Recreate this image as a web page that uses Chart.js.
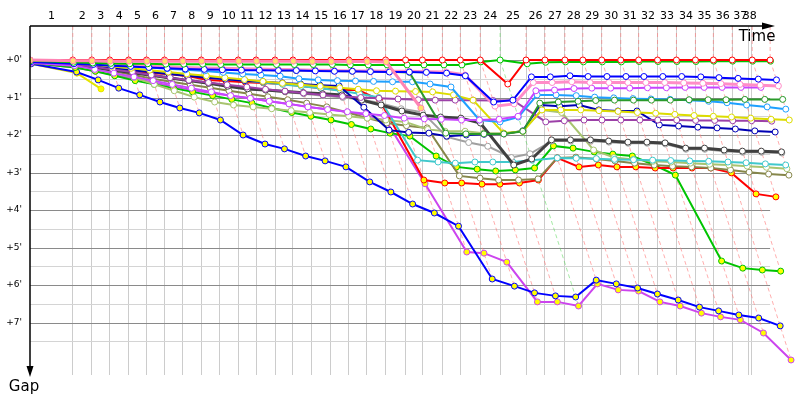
<!DOCTYPE html>
<html>
<head>
<meta charset="utf-8">
<script src="https://cdn.jsdelivr.net/npm/chart.js@4.4.1/dist/chart.umd.min.js"></script>
<style>
  html, body { margin: 0; padding: 0; background: #fff; }
  canvas { display: block; }
</style>
</head>
<body>
<canvas id="gapChart" width="800" height="400"></canvas>
<script>
// leader crossing time (minutes) for lap 0..38
var leaderTimes = [0, 3.58, 5.17, 6.67, 8.25, 9.75, 11.25, 12.75, 14.33, 15.83, 17.42, 18.92, 20.5, 22.0, 23.58, 25.17, 26.67, 28.17, 29.75, 31.42, 32.83,
  34.5, 36.0, 37.67, 39.33, 41.5, 43.08, 44.75, 46.25, 47.83, 49.42, 50.92, 52.5, 54.08, 55.67, 57.17, 58.75, 60.42, 61.92];
// vertical lap lines at the top axis
var lapLines = [3.58, 5.17, 6.67, 8.25, 9.75, 11.25, 12.75, 14.33, 15.83, 17.42, 18.92, 20.5, 22.0, 23.58, 25.17, 26.67, 28.17, 29.75, 31.42, 32.83,
  34.5, 36.0, 37.67, 39.33, 41.5, 43.08, 44.75, 46.25, 47.83, 49.42, 50.92, 52.5, 54.08, 55.67, 57.17, 58.75, 60.08, 60.33];
var lapLabels = ["1","2","3","4","5","6","7","8","9","10","11","12","13","14","15","16","17","18","19","20",
  "21","22","23","24","25","26","27","28","29","30","31","32","33","34","35","36","37","38"];
var gapTicks = [0, 0.5, 1, 1.5, 2, 2.5, 3, 3.5, 4, 4.5, 5, 5.5, 6, 6.5, 7, 7.5];
var gapMin = -0.907, gapMax = 8.4, timeMax = 64;

// gap to leader (minutes) per lap, lap 0..38
var gapRed = [0, 0,0,0,0,0,0,0,0,0,0, 0,0,0,0,0,0,0,0,0,0, 0,0,0,0.64, 0, 0,0,0,0,0,0,0,0,0,0,0,0,0];
var gapGreen = [0.02, 0.06,0.08,0.09,0.1,0.1,0.11,0.11,0.11,0.12,0.12, 0.12,0.12,0.12,0.12,0.12,0.13,0.13,0.13,0.13,0.13,
  0.13,0.13,0.05,0, 0.1, 0.06,0.05,0.05,0.05,0.05,0.04,0.04,0.04,0.04,0.03,0.03,0.03,0.03];
var gapBlue = [0.05, 0.1,0.12,0.15,0.17,0.2,0.22,0.24,0.25,0.26,0.27, 0.27,0.28,0.28,0.29,0.3,0.3,0.31,0.32,0.32,0.33,
  0.35,0.42,1.12,1.07, 0.45, 0.45,0.42,0.44,0.44,0.44,0.44,0.44,0.44,0.45,0.47,0.49,0.51,0.53];
var gapPink = [0.03, 0.04,0.07,0.1,0.13,0.16,0.18,0.2,0.21,0.22,0.23, 0.24,0.25,0.26,0.27,0.28,0.29,0.29,0.3,0.3,0.31,
  0.32,0.4,1.23,1.17, 0.6, 0.6,0.58,0.6,0.6,0.6,0.6,0.6,0.61,0.62,0.63,0.65,0.67,0.69];
var gapViolet = [0.08, 0.15,0.25,0.35,0.45,0.55,0.65,0.75,0.85,0.95,1.02, 1.1,1.17,1.25,1.32,1.38,1.43,1.48,1.55,1.57,1.58,
  1.6,1.6,1.58,1.5, 0.82, 0.8,0.76,0.75,0.75,0.75,0.74,0.74,0.73,0.73,0.73,0.73,0.73,null];
var gapDarkGreen = [0.03, 0.05,0.08,0.1,0.13,0.17,0.2,0.22,0.23,0.24,0.25, 0.26,0.27,0.28,0.28,0.29,0.3,0.3,0.31,0.33,1.95,
  1.97,1.97,1.97,1.9, 1.15, 1.12,1.1,1.08,1.07,1.07,1.07,1.07,1.06,1.06,1.06,1.05,1.05,1.05];
var gapSky = [0.03, 0.07,0.1,0.13,0.17,0.2,0.23,0.26,0.29,0.33,0.37, 0.4,0.43,0.5,0.53,0.55,0.56,0.57,0.58,0.58,0.64,
  0.72,1.6,1.65,1.52, 0.93, 0.93,0.95,0.99,1.01,1.03,1.04,1.05,1.07,1.1,1.14,1.2,1.25,1.31];
var gapYellow = [0.03, 0.08,0.12,0.17,0.22,0.27,0.32,0.37,0.42,0.47,0.52, 0.57,0.62,0.66,0.7,0.74,0.78,0.82,0.83,0.84,0.85,
  0.93,1.07,1.95,1.9, 1.33, 1.33,1.33,1.35,1.37,1.4,1.42,1.45,1.48,1.5,1.52,1.55,1.58,1.6];
var gapPurple = [0.05, 0.12,0.18,0.25,0.32,0.4,0.47,0.54,0.6,0.66,0.72, 0.78,0.83,0.88,0.93,0.97,1.0,1.02,1.04,1.06,1.07,
  1.07,1.07,1.08,1.07, 1.65, 1.62,1.6,1.6,1.6,1.6,1.6,1.6,1.61,1.61,1.62,1.62,1.63,null];
var gapNavy = [0.05, 0.12,0.17,0.22,0.27,0.32,0.37,0.42,0.47,0.51,0.55, 0.58,0.61,0.64,0.67,0.69,1.26,1.87,1.93,1.95,2.03,
  2.0,1.98,1.97,1.89, 1.2, 1.23,1.2,1.33,1.36,1.36,1.73,1.76,1.79,1.81,1.84,1.89,1.92,null];
var gapDarkGray = [0.06, 0.14,0.2,0.27,0.34,0.41,0.48,0.55,0.62,0.7,0.77, 0.8,0.84,0.87,0.9,0.93,1.07,1.2,1.36,1.47,1.52,
  1.55,1.68,2.8,2.64, 2.13, 2.13,2.13,2.16,2.19,2.19,2.21,2.35,2.35,2.4,2.43,2.43,2.45,null];
var gapGray = [0.06, 0.13,0.2,0.27,0.34,0.41,0.48,0.55,0.62,0.68,0.74, 0.8,0.85,0.9,0.95,1.0,1.05,1.15,1.3,1.39,2.05,
  2.2,2.3,2.6,2.5, 2.16, 2.16,2.16,2.19,2.22,2.22,2.24,2.38,2.38,2.43,2.46,2.46,2.48,null];
var gapCyan = [0.04, 0.1,0.15,0.2,0.25,0.3,0.35,0.4,0.45,0.5,0.55, 0.6,0.65,0.7,0.75,0.82,0.9,1.0,2.67,2.72,2.75,
  2.72,2.72,2.72,2.67, 2.61, 2.62,2.63,2.65,2.66,2.67,2.68,2.69,2.7,2.72,2.74,2.77,2.8,null];
var gapLightOlive = [0.06, 0.15,0.25,0.35,0.47,0.65,0.82,0.99,1.12,1.2,1.25, 1.3,1.35,1.4,1.45,1.5,1.55,1.6,1.65,1.85,1.9,
  1.9,1.95,1.95,1.9, 1.33, 1.4,2.4,2.6,2.65,2.7,2.72,2.75,2.78,2.8,2.83,2.86,2.9,null];
var gapOlive = [0.06, 0.12,0.2,0.3,0.4,0.5,0.58,0.66,0.74,0.82,0.9, 0.98,1.06,1.15,1.25,1.4,1.55,1.68,1.75,1.81,3.09,
  3.15,3.2,3.2,3.17, 2.61, 2.59,2.64,2.69,2.75,2.8,2.83,2.85,2.88,2.93,2.99,3.04,3.07,null];
var gapRedY = [0.05, 0.12,0.18,0.22,0.28,0.35,0.37,0.43,0.53,0.56,0.59, 0.61,0.64,0.69,0.75,0.8,0.8,1.07,3.2,3.28,3.28,
  3.31,3.31,3.28,3.2, 2.61, 2.85,2.8,2.85,2.85,2.88,2.88,2.88,2.88,3.01,3.57,3.65,null,null];
var gapGreenY = [0.08, 0.2,0.3,0.42,0.55,0.65,0.75,0.85,0.95,1.05,1.15, 1.28,1.4,1.5,1.6,1.72,1.84,1.95,2.03,2.56,2.85,
  2.91,2.96,2.93,2.88, 2.29, 2.35,2.45,2.51,2.56,2.8,3.07,5.36,5.55,5.6,5.63,null,null,null];
var gapBlueY = [0.1, 0.32,0.53,0.75,0.93,1.12,1.28,1.41,1.6,2.0,2.24, 2.37,2.56,2.69,2.85,3.25,3.52,3.84,4.08,4.43,5.84,
  6.03,6.21,6.29,6.32, 5.87, 5.97,6.08,6.24,6.4,6.59,6.69,6.8,6.88,7.09,null,null,null,null];
var gapMagentaY = [0.08, 0.2,0.3,0.4,0.5,0.6,0.7,0.8,0.88,0.95,1.02, 1.1,1.17,1.25,1.31,1.39,1.47,1.63,3.3,5.12,5.15,
  5.39,6.45,6.45,6.56, 5.97, 6.13,6.16,6.45,6.56,6.75,6.85,6.93,7.28,8.0,null,null,null,null];
var gapPinkY = [0, 0.02,0.02,0.03,0.03,0.03,0.03,0.03,0.03,0.03,0.03, 0.03,0.03,0.03,0.04,0.04,0.04,0.04,0.05,1.28];
var gapYellowY = [0.1, 0.35, 0.77];

// drawing styles, top-most first
var cars = [
  { gaps: gapPinkY, color: "#ff84b4", fill: "#ffe070", width: 3 },
  { gaps: gapRed, color: "#ff0000", fill: "#ffffff", dash: "rgba(255,120,120,0.6)" },
  { gaps: gapGreen, color: "#00c400", fill: "#ffffff", dash: "rgba(90,215,90,0.55)" },
  { gaps: gapBlue, color: "#0000ff", fill: "#ffffff" },
  { gaps: gapPink, color: "#ff8cc8", fill: "#ffffff", width: 3 },
  { gaps: gapViolet, color: "#c844ff", fill: "#ffffff" },
  { gaps: gapDarkGreen, color: "#2a9a2a", fill: "#ffffff" },
  { gaps: gapSky, color: "#1ea0ff", fill: "#ffffff" },
  { gaps: gapYellow, color: "#dcdc00", fill: "#ffffff" },
  { gaps: gapPurple, color: "#9c40a8", fill: "#ffffff" },
  { gaps: gapNavy, color: "#0000b4", fill: "#ffffff" },
  { gaps: gapDarkGray, color: "#404040", fill: "#ffffff", width: 3 },
  { gaps: gapGray, color: "#a0a0a0", fill: "#ffffff" },
  { gaps: gapCyan, color: "#40c8cc", fill: "#ffffff" },
  { gaps: gapLightOlive, color: "#a8c470", fill: "#ffffff" },
  { gaps: gapOlive, color: "#86864a", fill: "#ffffff" },
  { gaps: gapRedY, color: "#ff0000", fill: "#ffff00" },
  { gaps: gapGreenY, color: "#00c400", fill: "#ffff00" },
  { gaps: gapBlueY, color: "#0000ff", fill: "#ffff00" },
  { gaps: gapMagentaY, color: "#cc44ee", fill: "#ffff00" },
  { gaps: gapYellowY, color: "#e4e400", fill: "#ffff00" }
];

var datasets = [];

// lap lines: from the leader's crossing down through every car on that lap
for (var k = 1; k < leaderTimes.length; k++) {
  var maxGap = 0, lead = cars[1], best = 99;
  cars.forEach(function (c) {
    var g = c.gaps[k];
    if (g == null) return;
    if (g > maxGap) maxGap = g;
    if (g < best && c.dash) { best = g; lead = c; }
  });
  datasets.push({
    data: [{ x: leaderTimes[k], y: gapMin }, { x: leaderTimes[k], y: 0 }, { x: leaderTimes[k] + maxGap, y: maxGap }],
    borderColor: lead.dash, borderWidth: 1, borderDash: [4, 3],
    pointRadius: 0, tension: 0, order: 100
  });
}

cars.forEach(function (c, i) {
  var pts = [];
  c.gaps.forEach(function (g, lap) {
    if (g != null) pts.push({ x: leaderTimes[lap] + g, y: g });
  });
  datasets.push({
    data: pts,
    borderColor: c.color,
    borderWidth: c.width || 2,
    pointRadius: 3,
    pointBorderWidth: 1,
    pointBackgroundColor: c.fill,
    pointBorderColor: c.color,
    tension: 0,
    order: i
  });
});

var lapMids = lapLines.map(function (t, i) { return ((i ? lapLines[i - 1] : 0) + t) / 2; });

// horizontal gap lines stop at the finish time
var gapGrid = {
  id: "gapGrid",
  beforeDatasetsDraw: function (chart) {
    var ctx = chart.ctx, x = chart.scales.x, y = chart.scales.y;
    var x0 = x.getPixelForValue(0), x1 = x.getPixelForValue(leaderTimes[leaderTimes.length - 1]);
    ctx.save();
    ctx.lineWidth = 1;
    gapTicks.forEach(function (v) {
      var py = Math.round(y.getPixelForValue(v)) + 0.5;
      ctx.strokeStyle = Number.isInteger(v) ? "#8a8a8a" : "#d4d4d4";
      ctx.beginPath();
      ctx.moveTo(x0, py);
      ctx.lineTo(x1, py);
      ctx.stroke();
    });
    ctx.restore();
  }
};

var axisArrows = {
  id: "axisArrows",
  afterDraw: function (chart) {
    var ctx = chart.ctx, a = chart.chartArea;
    ctx.save();
    ctx.strokeStyle = "#000";
    ctx.fillStyle = "#000";
    ctx.lineWidth = 1.5;
    ctx.beginPath();
    ctx.moveTo(a.left, a.top);
    ctx.lineTo(a.left, a.bottom - 6);
    ctx.moveTo(a.left, a.top);
    ctx.lineTo(a.right - 32, a.top);
    ctx.stroke();
    ctx.beginPath();
    ctx.moveTo(a.left - 3.5, a.bottom - 9);
    ctx.lineTo(a.left + 3.5, a.bottom - 9);
    ctx.lineTo(a.left, a.bottom + 2);
    ctx.closePath();
    ctx.fill();
    ctx.beginPath();
    ctx.moveTo(a.right - 33, a.top - 3.5);
    ctx.lineTo(a.right - 33, a.top + 3.5);
    ctx.lineTo(a.right - 20, a.top);
    ctx.closePath();
    ctx.fill();
    ctx.font = "15px 'DejaVu Sans', Verdana, sans-serif";
    ctx.textAlign = "center";
    ctx.textBaseline = "alphabetic";
    ctx.fillText("Time", a.right - 38, a.top + 15);
    ctx.fillText("Gap", a.left - 6, a.bottom + 16);
    ctx.restore();
  }
};

Chart.defaults.font.family = "'DejaVu Sans', Verdana, sans-serif";
Chart.defaults.color = "#000";

new Chart(document.getElementById("gapChart"), {
  type: "line",
  data: { datasets: datasets },
  options: {
    responsive: false,
    animation: false,
    events: [],
    layout: { padding: { left: 0, top: 0, right: 2, bottom: 25 } },
    plugins: { legend: { display: false }, tooltip: { enabled: false } },
    scales: {
      x: {
        type: "linear", position: "top", min: 0, max: timeMax,
        afterBuildTicks: function (s) { s.ticks = lapLines.map(function (v) { return { value: v }; }); },
        ticks: { display: false },
        grid: { color: "#cccccc", drawTicks: false },
        border: { display: false },
        afterFit: function (s) { s.height = 0; }
      },
      lap: {
        type: "linear", position: "top", min: 0, max: timeMax,
        afterBuildTicks: function (s) { s.ticks = lapMids.map(function (v) { return { value: v }; }); },
        ticks: {
          autoSkip: false, maxRotation: 0, padding: 3,
          font: { size: 11 },
          callback: function (v, i) { return lapLabels[i]; }
        },
        grid: { display: false, drawTicks: false },
        border: { display: false },
        afterFit: function (s) { s.height = 26; }
      },
      y: {
        type: "linear", reverse: true, min: gapMin, max: gapMax,
        afterBuildTicks: function (s) { s.ticks = gapTicks.map(function (v) { return { value: v }; }); },
        ticks: {
          padding: 8, font: { size: 9 },
          callback: function (v) { return Number.isInteger(v) ? "+" + v + "'" : ""; }
        },
        grid: { display: false, drawTicks: false },
        border: { display: false },
        afterFit: function (s) { s.width = 30; }
      }
    }
  },
  plugins: [gapGrid, axisArrows]
});
</script>
</body>
</html>
